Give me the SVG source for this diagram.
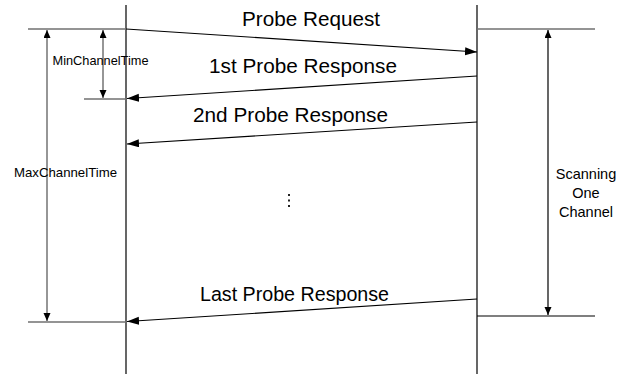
<svg xmlns="http://www.w3.org/2000/svg" width="635" height="375" viewBox="0 0 635 375">
<style>
text{font-family:"Liberation Sans",Arial,sans-serif;fill:#000}
.msg{font-size:20.5px}
.dimt{font-size:13px}
.side{font-size:14.5px}
.life{stroke:#000;stroke-width:1.2;fill:none}
.m{stroke:#000;stroke-width:1.1;fill:none;marker-end:url(#ah)}
.g{stroke:#707070;stroke-width:1.3;fill:none}
.d{stroke:#505050;stroke-width:1.2;fill:none;marker-end:url(#dh)}
</style>
<defs>
<marker id="ah" markerUnits="userSpaceOnUse" markerWidth="14" markerHeight="10" refX="12" refY="4" orient="auto"><path d="M0,0 L12,4 L0,8 z" fill="#000"/></marker>
<marker id="dh" markerUnits="userSpaceOnUse" markerWidth="10" markerHeight="8" refX="8" refY="3.5" orient="auto-start-reverse"><path d="M0,0 L8,3.5 L0,7 z" fill="#000"/></marker>
</defs>
<rect width="635" height="375" fill="#fff"/>
<g id="lifeline-left"><line class="life" x1="126" y1="5" x2="126" y2="374"/></g>
<g id="lifeline-right"><line class="life" x1="477" y1="5" x2="477" y2="374"/></g>
<g id="marks">
<line class="g" x1="28" y1="29" x2="126" y2="29"/>
<line class="g" x1="477" y1="29" x2="595" y2="29"/>
<line class="g" x1="84" y1="99" x2="126" y2="99"/>
<line class="g" x1="28" y1="322" x2="126" y2="322"/>
<line stroke="#000" stroke-width="1.2" x1="477" y1="316" x2="595" y2="316"/>
</g>
<g id="connectors">
<line class="m" x1="126" y1="29" x2="477" y2="52"/>
<line class="m" x1="477" y1="76" x2="127" y2="98.5"/>
<line class="m" x1="477" y1="122" x2="127" y2="144"/>
<line class="m" x1="477" y1="299" x2="127" y2="321.5"/>
<line class="d" x1="103" y1="30" x2="103" y2="98" style="marker-start:url(#dh)"/>
<line class="d" x1="47" y1="30" x2="47" y2="321" style="marker-start:url(#dh)"/>
<line class="d" x1="548" y1="30" x2="548" y2="315" style="marker-start:url(#dh);stroke:#000"/>
</g>
<g id="labels">
<text class="msg" x="242" y="26" textLength="138" lengthAdjust="spacingAndGlyphs">Probe Request</text>
<text class="msg" x="209" y="72.5" textLength="188" lengthAdjust="spacingAndGlyphs">1st Probe Response</text>
<text class="msg" x="193" y="122" textLength="195" lengthAdjust="spacingAndGlyphs">2nd Probe Response</text>
<text class="msg" x="200" y="301" textLength="189" lengthAdjust="spacingAndGlyphs">Last Probe Response</text>
<text class="dimt" x="52.5" y="65" textLength="96" lengthAdjust="spacingAndGlyphs">MinChannelTime</text>
<text class="dimt" x="14" y="176.5" textLength="103" lengthAdjust="spacingAndGlyphs">MaxChannelTime</text>
<text class="side" x="586" y="179" text-anchor="middle">Scanning</text>
<text class="side" x="586" y="198" text-anchor="middle">One</text>
<text class="side" x="586" y="216.5" text-anchor="middle">Channel</text>
</g>
<g id="ellipsis" fill="#222">
<rect x="288" y="194" width="2" height="2"/>
<rect x="288" y="199.5" width="2" height="2"/>
<rect x="288" y="205" width="2" height="2"/>
</g>
</svg>
